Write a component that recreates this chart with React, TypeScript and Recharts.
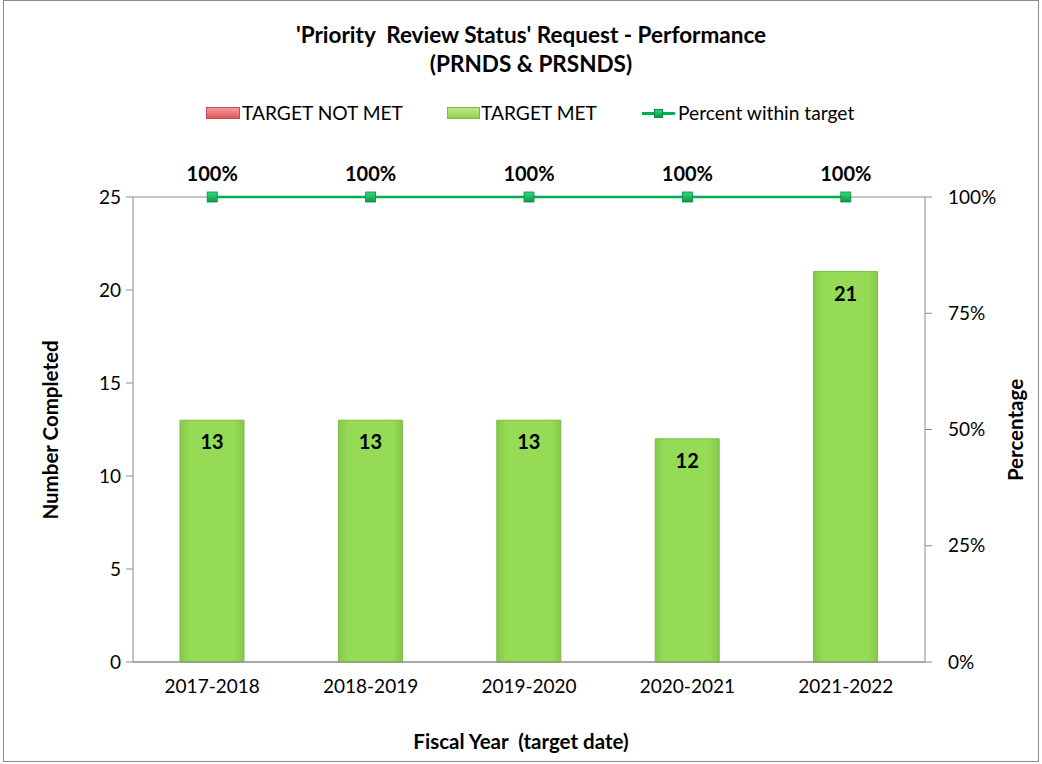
import {
  ComposedChart,
  Bar,
  Line,
  XAxis,
  YAxis,
  CartesianGrid,
  LabelList,
} from "recharts";

const years = ["2017-2018", "2018-2019", "2019-2020", "2020-2021", "2021-2022"];
const targetMet = [13, 13, 13, 12, 21];
const targetNotMet = [0, 0, 0, 0, 0];
const percentWithin = [100, 100, 100, 100, 100];

const countTicks = [0, 5, 10, 15, 20, 25];
const pctTicks = [0, 25, 50, 75, 100];

const data = years.map((year, i) => ({
  year,
  met: targetMet[i],
  notMet: targetNotMet[i],
  pct: percentWithin[i],
}));

const font = "Lato, 'Open Sans', sans-serif";

const SquareDot = (props: any) => {
  const { cx, cy } = props;
  if (cx == null || cy == null) return null;
  return (
    <rect
      x={cx - 5}
      y={cy - 5}
      width={10}
      height={10}
      fill="url(#dotGrad)"
      stroke="#0a8a3c"
      strokeWidth={0.8}
    />
  );
};

function LegendRow() {
  return (
    <div
      style={{
        position: "absolute",
        top: 101,
        left: 0,
        width: 1042,
        height: 24,
        fontFamily: font,
        fontSize: 19.2,
        lineHeight: "24px",
        color: "#000",
        whiteSpace: "nowrap",
      }}
    >
      <div style={{ position: "absolute", left: 206, top: 6, width: 34, height: 12, background: "linear-gradient(#f39a9a, #e05a5a)", border: "1px solid #c94c4c", boxSizing: "border-box" }} />
      <span style={{ position: "absolute", left: 242, top: 0 }}>TARGET NOT MET</span>
      <div style={{ position: "absolute", left: 447, top: 6, width: 33, height: 12, background: "linear-gradient(#bfea85, #8fd14f)", border: "1px solid #7fb84a", boxSizing: "border-box" }} />
      <span style={{ position: "absolute", left: 481, top: 0 }}>TARGET MET</span>
      <div style={{ position: "absolute", left: 642, top: 11, width: 33, height: 3, background: "#00b050" }} />
      <div style={{ position: "absolute", left: 654, top: 8, width: 9, height: 9, background: "linear-gradient(#2fd47a, #0a9a44)", border: "1px solid #0a8a3c", boxSizing: "border-box" }} />
      <span style={{ position: "absolute", left: 678, top: 0 }}>Percent within target</span>
    </div>
  );
}

export default function App() {
  return (
    <div
      style={{
        position: "absolute",
        left: 0,
        top: 0,
        width: 1042,
        height: 764,
        background: "#fff",
        fontFamily: font,
      }}
    >
      <div
        style={{
          position: "absolute",
          left: 3,
          top: 0,
          width: 1036,
          height: 762,
          border: "1px solid #8c8c8c",
          boxSizing: "border-box",
        }}
      />
      <div
        style={{
          position: "absolute",
          top: 20,
          left: 10,
          width: 1042,
          textAlign: "center",
          fontWeight: 700,
          fontSize: 22.5,
          lineHeight: "29px",
          color: "#000",
        }}
      >
        <div>'Priority&nbsp; Review Status' Request - Performance</div>
        <div>(PRNDS &amp; PRSNDS)</div>
      </div>
      <LegendRow />
      <ComposedChart
        width={1042}
        height={764}
        data={data}
        margin={{ top: 197, right: 57, bottom: 72, left: 73 }}
        barCategoryGap={0}
        style={{ position: "absolute", left: 0, top: 0 }}
      >
        <defs>
          <linearGradient id="barGrad" x1="0" y1="0" x2="1" y2="0">
            <stop offset="0%" stopColor="#84c94a" />
            <stop offset="15%" stopColor="#95db55" />
            <stop offset="85%" stopColor="#95db55" />
            <stop offset="100%" stopColor="#84c94a" />
          </linearGradient>
          <linearGradient id="dotGrad" x1="0" y1="0" x2="0" y2="1">
            <stop offset="0%" stopColor="#35d884" />
            <stop offset="100%" stopColor="#0a9a44" />
          </linearGradient>
        </defs>
        <CartesianGrid vertical={false} stroke="#8c8c8c" strokeWidth={1} />
        <XAxis
          dataKey="year"
          axisLine={{ stroke: "#8c8c8c" }}
          tickLine={false}
          tickSize={0}
          tickMargin={18}
          height={30}
          tick={{ fill: "#000", fontSize: 19, fontFamily: font }}
        />
        <YAxis
          yAxisId="left"
          domain={[0, 25]}
          ticks={countTicks}
          width={60}
          axisLine={{ stroke: "#8c8c8c" }}
          tickLine={{ stroke: "#8c8c8c" }}
          tickSize={7}
          tickMargin={5}
          tick={{ fill: "#000", fontSize: 19, fontFamily: font }}
        />
        <YAxis
          yAxisId="right"
          orientation="right"
          domain={[0, 100]}
          ticks={pctTicks}
          width={60}
          axisLine={{ stroke: "#8c8c8c" }}
          tickLine={{ stroke: "#8c8c8c" }}
          tickSize={7}
          tickMargin={16}
          tickFormatter={(v: number) => `${v}%`}
          tick={{ fill: "#000", fontSize: 19, fontFamily: font, textAnchor: "start" }}
        />
        <Bar
          yAxisId="left"
          dataKey="notMet"
          stackId="s"
          fill="#e05a5a"
          barSize={64}
          isAnimationActive={false}
        />
        <Bar
          yAxisId="left"
          dataKey="met"
          stackId="s"
          fill="url(#barGrad)"
          stroke="#7fb84a"
          strokeWidth={1}
          barSize={64}
          isAnimationActive={false}
        >
          <LabelList
            dataKey="met"
            position="insideTop"
            offset={15}
            style={{ fill: "#000", fontWeight: 700, fontSize: 20, fontFamily: font }}
          />
        </Bar>
        <Line
          yAxisId="right"
          dataKey="pct"
          stroke="#00b050"
          strokeWidth={2.5}
          dot={<SquareDot />}
          activeDot={false}
          isAnimationActive={false}
        >
          <LabelList
            dataKey="pct"
            position="top"
            offset={16}
            formatter={(v: number) => `${v}%`}
            style={{ fill: "#000", fontWeight: 700, fontSize: 20, fontFamily: font }}
          />
        </Line>
      </ComposedChart>
      <div
        style={{
          position: "absolute",
          left: 0,
          top: 729,
          width: 1042,
          textAlign: "center",
          fontWeight: 700,
          fontSize: 20.5,
          color: "#000",
        }}
      >
        Fiscal Year&nbsp; (target date)
      </div>
      <div
        style={{
          position: "absolute",
          left: 50,
          top: 430,
          transform: "translate(-50%, -50%) rotate(-90deg)",
          whiteSpace: "nowrap",
          fontWeight: 700,
          fontSize: 20.5,
          color: "#000",
        }}
      >
        Number Completed
      </div>
      <div
        style={{
          position: "absolute",
          left: 1015,
          top: 430,
          transform: "translate(-50%, -50%) rotate(-90deg)",
          whiteSpace: "nowrap",
          fontWeight: 700,
          fontSize: 20.5,
          color: "#000",
        }}
      >
        Percentage
      </div>
    </div>
  );
}
